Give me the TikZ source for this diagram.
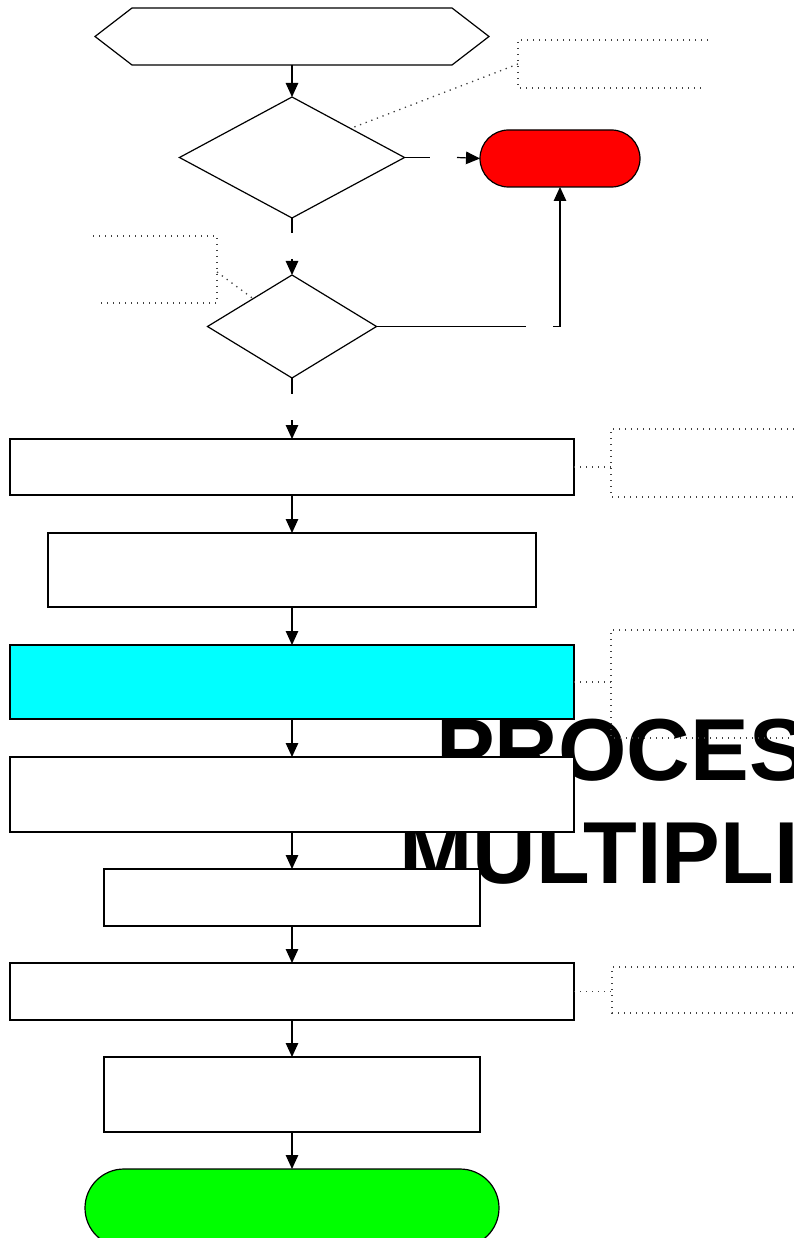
\documentclass[tikz,border=0pt]{standalone}
\usepackage{fontspec}
\newfontfamily\titlefont{Liberation Sans}
\usetikzlibrary{shapes.geometric,arrows.meta,calc}
\begin{document}
\begin{tikzpicture}[x=1pt,y=-1pt,
  shp/.style={draw=black,line width=1.2pt,inner sep=0pt,outer sep=0pt},
  box/.style={shp,rectangle,fill=white},
  dec/.style={shp,diamond,fill=white},
  term/.style={shp,rectangle},
  link/.style={line width=1.2pt,draw=black},
  arr/.style={link,-{Triangle[length=14pt,width=12.5pt]}},
  note/.style={line width=1.3pt,draw=black!75,dash pattern=on 1.3pt off 4.7pt},
  titletxt/.style={inner sep=0pt,anchor=base west,font=\titlefont\bfseries\fontsize{88}{100}\selectfont}
]
\useasboundingbox (0,0) rectangle (794,1238);
\clip (0,0) rectangle (794,1238);

% background title
\node[titletxt] (t1) at (436,780) {PROCESS};
\node[titletxt] (t2) at (399,883) {MULTIPLI};

% nodes
\node[minimum width=394pt,minimum height=57pt,inner sep=0pt,outer sep=0pt] (start) at (292,36.5) {};
\draw[link,fill=white] ([xshift=37pt]start.north west) -- ([xshift=-37pt]start.north east) -- (start.east)
   -- ([xshift=-37pt]start.south east) -- ([xshift=37pt]start.south west) -- (start.west) -- cycle;
\node[dec,minimum width=225pt,minimum height=121pt] (d1) at (292,157.5) {};
\node[term,fill={rgb,255:red,255;green,0;blue,0},minimum width=160pt,minimum height=57pt,rounded corners=28.5pt] (red) at (560,158.5) {};
\node[dec,minimum width=169pt,minimum height=103pt] (d2) at (292,326.5) {};
\node[box,minimum width=564pt,minimum height=56pt] (bA) at (292,467) {};
\node[box,minimum width=488pt,minimum height=74pt] (bB) at (292,570) {};
\node[box,fill={rgb,255:red,0;green,255;blue,255},minimum width=564pt,minimum height=74pt] (bC) at (292,682) {};
\node[box,minimum width=564pt,minimum height=75pt] (bD) at (292,794.5) {};
\node[box,minimum width=376pt,minimum height=57pt] (bE) at (292,897.5) {};
\node[box,minimum width=564pt,minimum height=57pt] (bF) at (292,991.5) {};
\node[box,minimum width=376pt,minimum height=75pt] (bG) at (292,1094.5) {};
\node[term,fill={rgb,255:red,0;green,255;blue,0},minimum width=414pt,minimum height=78pt,rounded corners=39pt] (green) at (292,1208) {};

% connectors
\draw[arr] (start.south) -- (d1.north);
\coordinate (g1a) at (430,157.5);
\coordinate (g1b) at (457,157.5);
\draw[link] (d1.east) -- (g1a);
\draw[arr] (g1b) -- (red.west);

\coordinate (g2a) at (292,233);
\coordinate (g2b) at (292,259);
\draw[link] (d1.south) -- (g2a);
\draw[arr] (g2b) -- (d2.north);

\coordinate (g3a) at (526,326.5);
\coordinate (g3b) at (553,326.5);
\coordinate (g3c) at (560,326.5);
\draw[link] (d2.east) -- (g3a);
\draw[arr] (g3b) -- (g3c) -- (red.south);

\coordinate (g4a) at (292,394);
\coordinate (g4b) at (292,420);
\draw[link] (d2.south) -- (g4a);
\draw[arr] (g4b) -- (bA.north);

\draw[arr] (bA.south) -- (bB.north);
\draw[arr] (bB.south) -- (bC.north);
\draw[arr] (bC.south) -- (bD.north);
\draw[arr] (bD.south) -- (bE.north);
\draw[arr] (bE.south) -- (bF.north);
\draw[arr] (bF.south) -- (bG.north);
\draw[arr] (bG.south) -- (green.north);

% annotations
\coordinate (n1) at (518,64);
\draw[note] (708,40) -- (518,40) -- (518,88) -- (703,88);
\draw[note] (n1) -- ($(d1.north)!0.52!(d1.east)$);

\coordinate (n2) at (217,272);
\draw[note] (93,236) -- (217,236) -- (217,303) -- (98,303);
\draw[note] (n2) -- ($(d2.north)!0.46!(d2.west)$);

\coordinate (n3) at (611,467);
\draw[note] (800,429) -- (611,429) -- (611,497) -- (800,497);
\draw[note] (bA.east) -- (n3);

\coordinate (n4) at (611,682);
\draw[note] (800,630) -- (611,630) -- (611,738) -- (800,738);
\draw[note] (bC.east) -- (n4);

\coordinate (n5) at (612,991.5);
\draw[note] (800,967) -- (612,967) -- (612,1013) -- (800,1013);
\draw[note] (bF.east) -- (n5);
\end{tikzpicture}
\end{document}
